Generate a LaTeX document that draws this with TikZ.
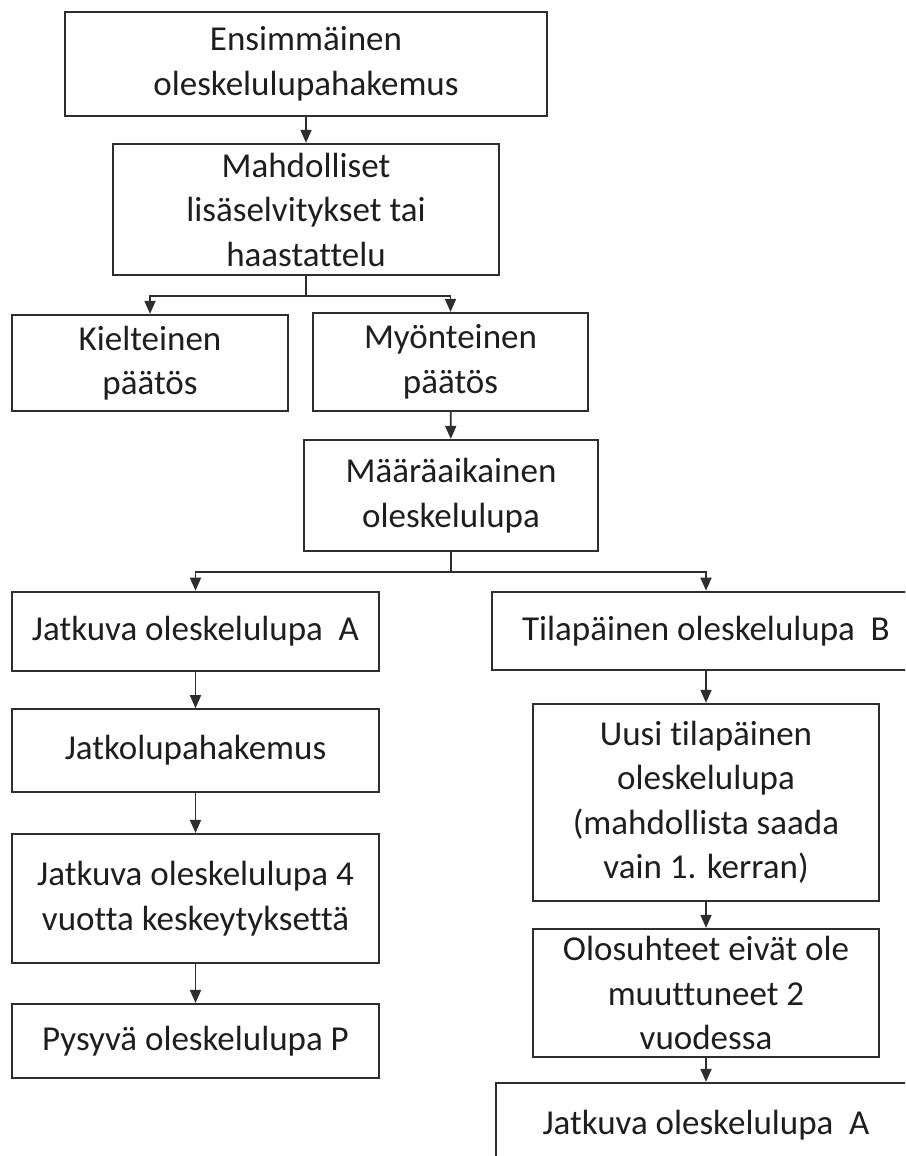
\documentclass[tikz,border=0pt]{standalone}
\usepackage{fontspec}
\setmainfont{Carlito}[Ligatures=NoCommon]
\usetikzlibrary{arrows.meta}
\definecolor{ln}{HTML}{2E2E2E}
\definecolor{tx}{HTML}{1E1E1E}
\tikzset{
  box/.style={draw=ln, line width=2.2pt, align=center, inner sep=0pt, text=tx,
    font=\fontsize{35}{44.5}\selectfont},
  conn/.style={draw=ln, line width=1.7pt, -{Triangle[length=13pt,width=11pt]}},
}
\begin{document}
\begin{tikzpicture}[x=1pt,y=-1pt]
\useasboundingbox (0,0) rectangle (905,1156);
\clip (0,0) rectangle (905,1156);
\fill[white] (0,0) rectangle (905,1156);
\node[box, minimum width=482pt, minimum height=104pt] (b1) at (306,64) {Ensimmäinen\\oleskelulupahakemus};
\node[box, minimum width=386.5pt, minimum height=131pt] (b2) at (306,209.5) {Mahdolliset\\lisäselvitykset tai\\haastattelu};
\node[box, minimum width=276.5pt, minimum height=96pt] (kiel) at (150,363) {Kielteinen\\päätös};
\node[box, minimum width=275pt, minimum height=98pt] (myon) at (450.5,362) {Myönteinen\\päätös};
\node[box, minimum width=294.5pt, minimum height=111pt] (maar) at (451,495.5) {Määräaikainen\\oleskelulupa};
\node[box, minimum width=367.5pt, minimum height=79.5pt] (ja) at (195.5,631.5) {Jatkuva oleskelulupa\ \ A};
\node[box, minimum width=428pt, minimum height=78.5pt] (tila) at (706,631) {Tilapäinen oleskelulupa\ \ B};
\node[box, minimum width=367.5pt, minimum height=82.5pt] (jlh) at (195.5,750.5) {Jatkolupahakemus};
\node[box, minimum width=367.5pt, minimum height=129pt] (j4) at (195.5,898.5) {Jatkuva oleskelulupa 4\\vuotta keskeytyksettä};
\node[box, minimum width=367.5pt, minimum height=74pt] (pys) at (195.5,1041) {Pysyvä oleskelulupa\ P};
\node[box, minimum width=346.5pt, minimum height=197pt] (uusi) at (706,802.5) {Uusi tilapäinen\\oleskelulupa\\(mahdollista saada\\vain 1. kerran)};
\node[box, minimum width=346.5pt, minimum height=128pt] (olo) at (706,993) {Olosuhteet eivät ole\\muuttuneet 2\\vuodessa};
\node[box, minimum width=420pt, minimum height=84pt] (ja2) at (706,1125) {Jatkuva oleskelulupa\ \ A};

\draw[conn] (b1) -- (b2);
\draw[conn] (b2.south) -- ++(0,20) -| (kiel);
\draw[conn] (b2.south) -- ++(0,20) -| (myon);
\draw[conn] (myon) -- (maar);
\draw[conn] (maar.south) -- ++(0,20) -| (ja);
\draw[conn] (maar.south) -- ++(0,20) -| (tila);
\draw[conn] (ja) -- (jlh);
\draw[conn] (jlh) -- (j4);
\draw[conn] (j4) -- (pys);
\draw[conn] (tila) -- (uusi);
\draw[conn] (uusi) -- (olo);
\draw[conn] (olo) -- (ja2);
\end{tikzpicture}
\end{document}
